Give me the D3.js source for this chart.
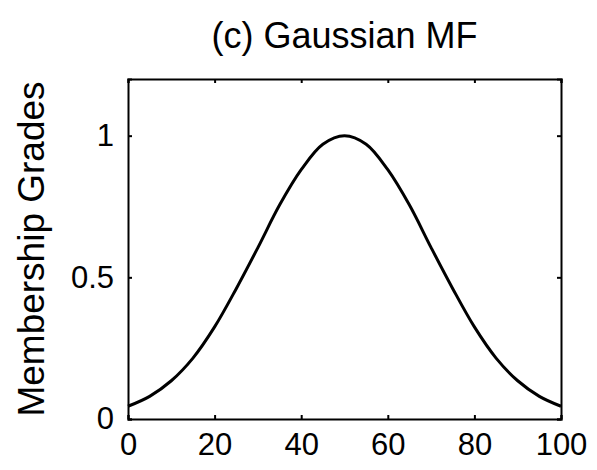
<!DOCTYPE html>
<html>
<head>
<meta charset="utf-8">
<script src="https://cdn.jsdelivr.net/npm/d3@7"></script>
<style>
  body { margin: 0; background: #fff; }
  svg text { font-family: "Liberation Sans", Arial, sans-serif; fill: #000; }
</style>
</head>
<body>
<div id="chart"></div>
<script>
// values
var xValues = [0, 5, 10, 15, 20, 25, 30, 35, 40, 45, 50, 55, 60, 65, 70, 75, 80, 85, 90, 95, 100];
var grades  = [0.045, 0.08, 0.135, 0.215, 0.325, 0.46, 0.605, 0.755, 0.88, 0.97, 1.0,
               0.97, 0.88, 0.755, 0.605, 0.46, 0.325, 0.215, 0.135, 0.08, 0.045];
var xTicks = [0, 20, 40, 60, 80, 100];
var yTicks = [0, 0.5, 1];
var yTickLabels = ["0", "0.5", "1"];

var width = 597, height = 470;
var margins = {top: 79, right: 36, bottom: 51, left: 128};
var w = width - margins.left - margins.right;
var h = height - margins.top - margins.bottom;

var svg = d3.select("#chart").append("svg")
    .attr("width", width)
    .attr("height", height);

var x = d3.scaleLinear().domain([0, 100]).range([0, w]);
var y = d3.scaleLinear().domain([0, 1.2]).range([h, 0]);

var g = svg.append("g")
    .attr("transform", "translate(" + margins.left + "," + margins.top + ")");

// the line
var line = d3.line()
    .x(function(d, i) { return x(xValues[i]); })
    .y(function(d) { return y(d); })
    .curve(d3.curveCatmullRom);

g.append("path")
    .datum(grades)
    .attr("d", line)
    .attr("fill", "none")
    .attr("stroke", "#000")
    .attr("stroke-width", 3);

// inward ticks on all four sides (matlab box)
var tl = 4;
g.append("g").attr("transform", "translate(0," + h + ")")
    .call(d3.axisBottom(x).tickValues(xTicks).tickSize(-tl).tickPadding(14).tickFormat(d3.format("d")));
g.append("g")
    .call(d3.axisTop(x).tickValues(xTicks).tickSize(-tl).tickFormat(""));
g.append("g")
    .call(d3.axisLeft(y).tickValues(yTicks).tickSize(-tl).tickPadding(14)
        .tickFormat(function(d, i) { return yTickLabels[i]; }));
g.append("g").attr("transform", "translate(" + w + ",0)")
    .call(d3.axisRight(y).tickValues(yTicks).tickSize(-tl).tickFormat(""));

g.selectAll(".domain").attr("stroke", "#000").attr("stroke-width", 2);
g.selectAll(".tick line").attr("stroke", "#000").attr("stroke-width", 2);
g.selectAll(".tick text").attr("font-size", "31px");

// title and y label
svg.append("text")
    .attr("x", margins.left + w / 2)
    .attr("y", 48)
    .attr("text-anchor", "middle")
    .attr("font-size", "36px")
    .text("(c) Gaussian MF");

svg.append("text")
    .attr("transform", "translate(44," + (margins.top + h / 2) + ")rotate(-90)")
    .attr("text-anchor", "middle")
    .attr("font-size", "37px")
    .text("Membership Grades");
</script>
</body>
</html>
